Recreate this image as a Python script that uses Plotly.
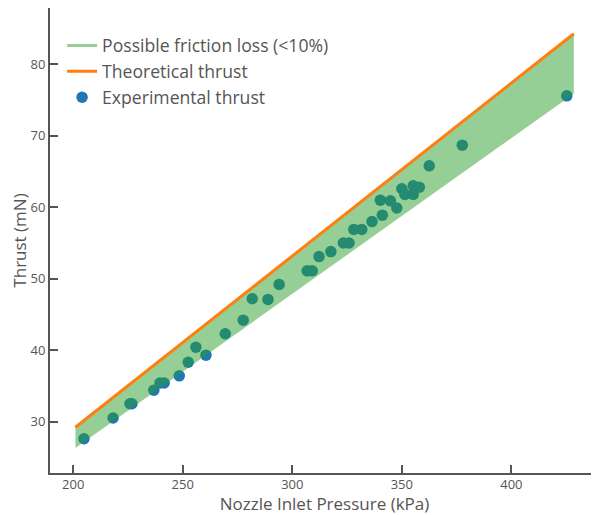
import plotly.graph_objects as go

# Experimental thrust
pressure_exp = [204.9, 218.2, 225.9, 226.8, 236.8, 239.6, 241.5, 248.4, 252.5, 256.0,
                260.6, 269.4, 277.6, 281.7, 288.9, 294.0, 306.8, 309.1, 312.2, 317.6,
                323.3, 325.9, 328.1, 331.7, 336.4, 341.1, 340.2, 344.8, 347.7, 350.0,
                351.4, 355.2, 355.2, 358.0, 362.5, 377.6, 425.3]
thrust_exp = [27.6, 30.5, 32.5, 32.5, 34.4, 35.4, 35.4, 36.4, 38.3, 40.4,
              39.3, 42.3, 44.2, 47.2, 47.1, 49.2, 51.1, 51.1, 53.1, 53.8,
              55.0, 55.0, 56.9, 56.9, 58.0, 58.9, 61.0, 60.9, 59.9, 62.6,
              61.8, 61.8, 63.0, 62.8, 65.8, 68.7, 75.6]

# Theoretical thrust and 10% friction loss lower bound
pressure_theory = [201.0, 428.5]
thrust_theory = [29.2, 84.3]
thrust_lower = [26.3, 75.9]

x_ticks = [200, 250, 300, 350, 400]
y_ticks = [30, 40, 50, 60, 70, 80]

GREEN_FILL = "rgba(44,160,44,0.5)"
ORANGE = "#ff7f0e"
BLUE = "#1f77b4"

fig = go.Figure()

fig.add_trace(go.Scatter(
    x=pressure_exp, y=thrust_exp, mode="markers", name="Experimental thrust",
    marker=dict(color=BLUE, size=11.5), legendrank=3))

fig.add_trace(go.Scatter(
    x=pressure_theory, y=thrust_lower, mode="lines", line=dict(width=0),
    showlegend=False, hoverinfo="skip"))
fig.add_trace(go.Scatter(
    x=pressure_theory, y=thrust_theory, mode="lines", line=dict(width=0),
    fill="tonexty", fillcolor=GREEN_FILL, showlegend=False, hoverinfo="skip"))

# legend entry for the band
fig.add_trace(go.Scatter(
    x=[None], y=[None], mode="lines", name="Possible friction loss (<10%)",
    line=dict(color=GREEN_FILL, width=3), legendrank=1))

fig.add_trace(go.Scatter(
    x=pressure_theory, y=thrust_theory, mode="lines", name="Theoretical thrust",
    line=dict(color=ORANGE, width=3), legendrank=2))

axis_common = dict(
    showgrid=False, zeroline=False, showline=True, linecolor="#555", linewidth=2,
    ticks="inside", ticklen=8, tickwidth=1.5, tickcolor="#555",
    tickfont=dict(size=13, color="#555"),
)

# page body has an 8px margin, so the figure is sized to end at the window edge
fig.update_layout(
    width=591, height=507,
    margin=dict(l=42, r=0, t=0, b=42),
    paper_bgcolor="white", plot_bgcolor="white",
    font=dict(family="Open Sans", color="#555"),
    xaxis=dict(range=[189.4, 440], tickvals=x_ticks, ticklabelstandoff=-2,
               title=dict(text="Nozzle Inlet Pressure (kPa)", font=dict(size=17, color="#555"), standoff=0),
               **axis_common),
    yaxis=dict(range=[22.8, 87.9], tickvals=y_ticks,
               title=dict(text="Thrust (mN)", font=dict(size=17, color="#555"), standoff=4),
               **axis_common),
    legend=dict(x=0.022, y=0.958, xanchor="left", yanchor="top", traceorder="normal",
                font=dict(size=17.6, color="#555"), bgcolor="rgba(0,0,0,0)",
                itemwidth=30, tracegroupgap=0),
    showlegend=True,
)

fig.write_html("out.html")
